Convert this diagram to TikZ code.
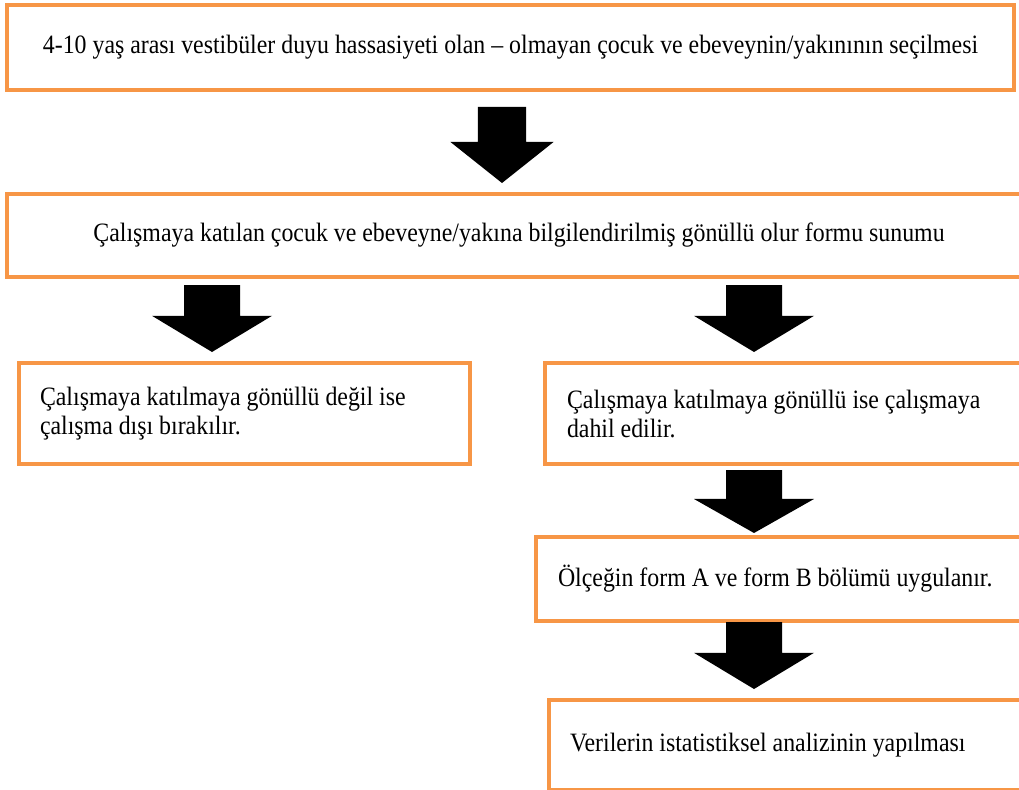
\documentclass[tikz,border=0pt]{standalone}
\usepackage{fontspec}
\setmainfont{Liberation Serif}[FakeStretch=0.9]
\usetikzlibrary{calc}
\definecolor{stageorange}{RGB}{247, 150, 70}
\newcommand{\stagefont}{\fontsize{26.5}{29}\selectfont}
% block arrow from top centre (#2) to tip (#3), #1 scales the width
\newcommand{\blockarr}[3][1]{%
  \fill let \p1=(#2), \p2=(#3), \p3=($(#2)!0.46!(#3)$) in
    (\x1-28pt*#1,\y1) -- (\x1+28pt*#1,\y1) -- (\x1+28pt*#1,\y3) -- (\x1+60pt*#1,\y3)
    -- (\x2,\y2) -- (\x1-60pt*#1,\y3) -- (\x1-28pt*#1,\y3) -- cycle;}

\begin{document}
\begin{tikzpicture}[x=1pt, y=-1pt,
    stage/.style={draw=stageorange, line width=4pt, outer sep=0pt, inner ysep=0pt,
      anchor=north west, font=\stagefont,
      execute at begin node={\spaceskip=0pt\xspaceskip=0pt\relax}}]
  \useasboundingbox (0,0) rectangle (1019,789);
  \clip (0,0) rectangle (1019,789);

  % boxes
  \node[stage, minimum width=1007pt, minimum height=85pt, align=center] (select) at (7,5)
    {4-10 yaş arası vestibüler duyu hassasiyeti olan – olmayan çocuk ve ebeveynin/yakınının seçilmesi};
  \node[stage, minimum width=1024pt, minimum height=83pt, align=center] (consent) at (7,194)
    {Çalışmaya katılan çocuk ve ebeveyne/yakına bilgilendirilmiş gönüllü olur formu sunumu};
  \node[stage, inner xsep=21pt, text width=409pt, minimum height=101pt, align=left] (excluded) at (19,363)
    {Çalışmaya katılmaya gönüllü değil ise\\çalışma dışı bırakılır.};
  \node[stage, inner xsep=22pt, text width=456pt, minimum height=101pt, align=left] (included) at (545,363)
    {Çalışmaya katılmaya gönüllü ise çalışmaya\\dahil edilir.};
  \node[stage, inner xsep=22pt, text width=460pt, minimum height=84pt, align=left] (forms) at (536,537)
    {Ölçeğin form A ve form B bölümü uygulanır.};
  \node[stage, inner xsep=21pt, text width=460pt, minimum height=90pt, align=left] (stats) at (549,700)
    {Verilerin istatistiksel analizinin yapılması};

  % arrow ends
  \coordinate (a1s) at ($(select.south -| 502,0)+(0,17)$);
  \coordinate (a1e) at ($(consent.north -| 502,0)+(0,-11)$);
  \coordinate (a2s) at ($(consent.south -| 212,0)+(0,8)$);
  \coordinate (a2e) at ($(excluded.north -| 212,0)+(0,-11)$);
  \coordinate (a3s) at ($(consent.south -| 754,0)+(0,8)$);
  \coordinate (a3e) at ($(included.north -| 754,0)+(0,-11)$);
  \coordinate (a4s) at ($(included.south -| 754,0)+(0,6)$);
  \coordinate (a4e) at ($(forms.north -| 754,0)+(0,-4)$);
  \coordinate (a5s) at ($(forms.south -| 754,0)+(0,1)$);
  \coordinate (a5e) at ($(stats.north -| 754,0)+(0,-11)$);

  % arrows
  \blockarr[0.86]{a1s}{a1e}
  \blockarr{a2s}{a2e}
  \blockarr{a3s}{a3e}
  \blockarr{a4s}{a4e}
  \blockarr{a5s}{a5e}
\end{tikzpicture}
\end{document}
